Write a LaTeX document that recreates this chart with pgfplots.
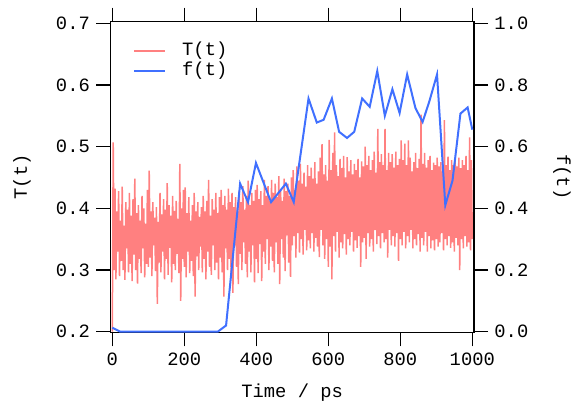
\documentclass[border=0pt]{standalone}
\usepackage{fontspec}
\setmainfont{Liberation Mono}
\usepackage{pgfplots}
\pgfplotsset{compat=1.18}
\usetikzlibrary{calc}

\definecolor{tred}{RGB}{255,128,128}
\definecolor{fblue}{RGB}{64,112,255}

\pgfplotsset{
  twin/.style={
    width=363.7pt, height=310.6pt, scale only axis,
    xmin=-5.6, xmax=1004.7,
    tick align=outside, major tick length=14pt,
    axis line style={line width=1.2pt},
    tick style={black, line width=1.2pt},
    /pgf/number format/assume math mode=true,
    /pgf/number format/1000 sep={},
  },
}

\begin{document}
\fontsize{18.8}{22}\selectfont
\begin{tikzpicture}
% left axis: T(t)
\begin{axis}[twin,
  ymin=0.199, ymax=0.7026,
  xtick={0,200,400,600,800,1000}, xtick pos=both, xticklabel pos=lower,
  ytick={0.2,0.3,0.4,0.5,0.6,0.7}, ytick pos=left,
  yticklabel style={/pgf/number format/.cd, fixed, fixed zerofill, precision=1},
  xlabel={Time / ps}, ylabel={T(t)},
  every axis x label/.style={at={(axis description cs:0.5,-0.2093)}, anchor=base},
  every axis y label/.style={at={(axis description cs:-0.2428,0.5)}, rotate=90, anchor=center},
]
\addplot[tred, line width=1.5pt] table[row sep=\\, header=false, x expr=\coordindex*2.5, y index=0] {
0.200\\0.507\\0.300\\0.432\\0.285\\0.395\\0.330\\0.428\\0.290\\0.380\\0.315\\0.435\\0.300\\0.372\\0.284\\0.410\\0.335\\0.398\\0.296\\0.425\\
0.310\\0.388\\0.282\\0.415\\0.325\\0.448\\0.300\\0.392\\0.278\\0.405\\0.318\\0.380\\0.295\\0.420\\0.335\\0.400\\0.288\\0.375\\0.310\\0.430\\
0.305\\0.461\\0.320\\0.395\\0.290\\0.410\\0.340\\0.385\\0.298\\0.402\\0.245\\0.378\\0.312\\0.425\\0.296\\0.390\\0.330\\0.415\\0.285\\0.398\\
0.318\\0.441\\0.292\\0.405\\0.336\\0.388\\0.280\\0.420\\0.310\\0.396\\0.300\\0.412\\0.326\\0.383\\0.295\\0.472\\0.250\\0.400\\0.318\\0.430\\
0.305\\0.434\\0.288\\0.392\\0.330\\0.418\\0.295\\0.380\\0.315\\0.405\\0.290\\0.425\\0.257\\0.395\\0.322\\0.410\\0.300\\0.386\\0.338\\0.402\\
0.296\\0.420\\0.318\\0.395\\0.285\\0.412\\0.330\\0.446\\0.305\\0.388\\0.292\\0.415\\0.340\\0.398\\0.300\\0.425\\0.312\\0.392\\0.285\\0.418\\
0.320\\0.430\\0.296\\0.405\\0.257\\0.420\\0.335\\0.398\\0.300\\0.432\\0.318\\0.410\\0.290\\0.425\\0.263\\0.402\\0.340\\0.418\\0.305\\0.395\\
0.277\\0.428\\0.326\\0.410\\0.300\\0.436\\0.345\\0.398\\0.310\\0.420\\0.288\\0.445\\0.330\\0.405\\0.296\\0.425\\0.340\\0.412\\0.280\\0.430\\
0.318\\0.438\\0.295\\0.415\\0.342\\0.428\\0.282\\0.405\\0.330\\0.446\\0.310\\0.420\\0.350\\0.436\\0.300\\0.412\\0.338\\0.446\\0.315\\0.425\\
0.296\\0.440\\0.345\\0.418\\0.310\\0.452\\0.277\\0.430\\0.350\\0.412\\0.320\\0.448\\0.298\\0.428\\0.356\\0.440\\0.312\\0.420\\0.289\\0.450\\
0.340\\0.462\\0.355\\0.430\\0.320\\0.468\\0.360\\0.445\\0.328\\0.472\\0.350\\0.440\\0.325\\0.458\\0.365\\0.435\\0.332\\0.470\\0.348\\0.452\\
0.335\\0.466\\0.360\\0.448\\0.330\\0.475\\0.352\\0.440\\0.338\\0.460\\0.321\\0.482\\0.365\\0.504\\0.340\\0.455\\0.318\\0.470\\0.350\\0.445\\
0.305\\0.511\\0.338\\0.462\\0.285\\0.490\\0.355\\0.523\\0.330\\0.470\\0.362\\0.452\\0.320\\0.480\\0.345\\0.465\\0.335\\0.485\\0.358\\0.450\\
0.325\\0.483\\0.350\\0.460\\0.340\\0.478\\0.362\\0.455\\0.330\\0.472\\0.348\\0.462\\0.336\\0.480\\0.355\\0.450\\0.305\\0.476\\0.345\\0.468\\
0.352\\0.500\\0.318\\0.470\\0.360\\0.485\\0.338\\0.462\\0.350\\0.478\\0.330\\0.492\\0.365\\0.458\\0.342\\0.529\\0.355\\0.475\\0.335\\0.488\\
0.360\\0.470\\0.345\\0.529\\0.350\\0.462\\0.320\\0.490\\0.365\\0.475\\0.340\\0.488\\0.355\\0.466\\0.338\\0.492\\0.360\\0.470\\0.315\\0.480\\
0.350\\0.510\\0.340\\0.478\\0.362\\0.505\\0.335\\0.470\\0.355\\0.510\\0.345\\0.482\\0.365\\0.460\\0.335\\0.475\\0.350\\0.490\\0.340\\0.465\\
0.358\\0.480\\0.330\\0.552\\0.352\\0.472\\0.340\\0.490\\0.362\\0.466\\0.330\\0.478\\0.355\\0.485\\0.335\\0.462\\0.348\\0.474\\0.332\\0.470\\
0.350\\0.482\\0.338\\0.468\\0.345\\0.475\\0.360\\0.460\\0.332\\0.543\\0.350\\0.470\\0.340\\0.484\\0.355\\0.462\\0.336\\0.478\\0.345\\0.470\\
0.330\\0.476\\0.352\\0.468\\0.340\\0.482\\0.300\\0.465\\0.350\\0.478\\0.335\\0.470\\0.355\\0.485\\0.338\\0.462\\0.345\\0.515\\0.332\\0.478\\
0.350\\
};
\end{axis}

% right axis: f(t)
\begin{axis}[twin,
  ymin=-0.002, ymax=1.005,
  hide x axis,
  ytick={0,0.2,0.4,0.6,0.8,1.0}, ytick pos=right, yticklabel pos=right,
  yticklabel style={/pgf/number format/.cd, fixed, fixed zerofill, precision=1},
  ylabel={f(t)},
  every axis y label/.style={at={(axis description cs:1.242,0.5)}, rotate=-90, anchor=center},
  legend image code/.code={\draw[#1] (0pt,0pt) -- (31pt,0pt); \path (47pt,0pt);},
  legend cell align=left,
  legend style={at={(axis description cs:0,1)}, anchor=north west,
    xshift=22.7pt, yshift=-20.3pt, draw=none, fill=none, inner sep=0pt,
    row sep=3pt, nodes={inner sep=0pt, text height=13pt, text depth=4pt}},
]
\addlegendimage{tred, line width=2pt}
\addlegendentry{T(t)}
\addplot[fblue, line width=2pt] coordinates {
  (0,0.013) (22,0) (50,0) (100,0) (150,0) (200,0) (250,0) (293,0)
  (316,0.02) (355,0.48) (377,0.42) (399,0.547) (441,0.42) (467,0.458)
  (482,0.48) (504,0.42) (545,0.756) (568,0.678) (587,0.687) (610,0.756)
  (630,0.648) (652,0.628) (672,0.648) (694,0.756) (715,0.729) (736,0.845)
  (757,0.70) (778,0.786) (798,0.709) (819,0.834) (842,0.725) (862,0.68)
  (881,0.748) (902,0.834) (925,0.41) (945,0.49) (967,0.707) (987,0.727)
  (1000,0.655)
};
\addlegendentry{f(t)}
\end{axis}

\pgfresetboundingbox
\path ($(current axis.south west)+(-110.3pt,-70.7pt)$) rectangle ($(current axis.north east)+(102pt,21.7pt)$);
\end{tikzpicture}
\end{document}
